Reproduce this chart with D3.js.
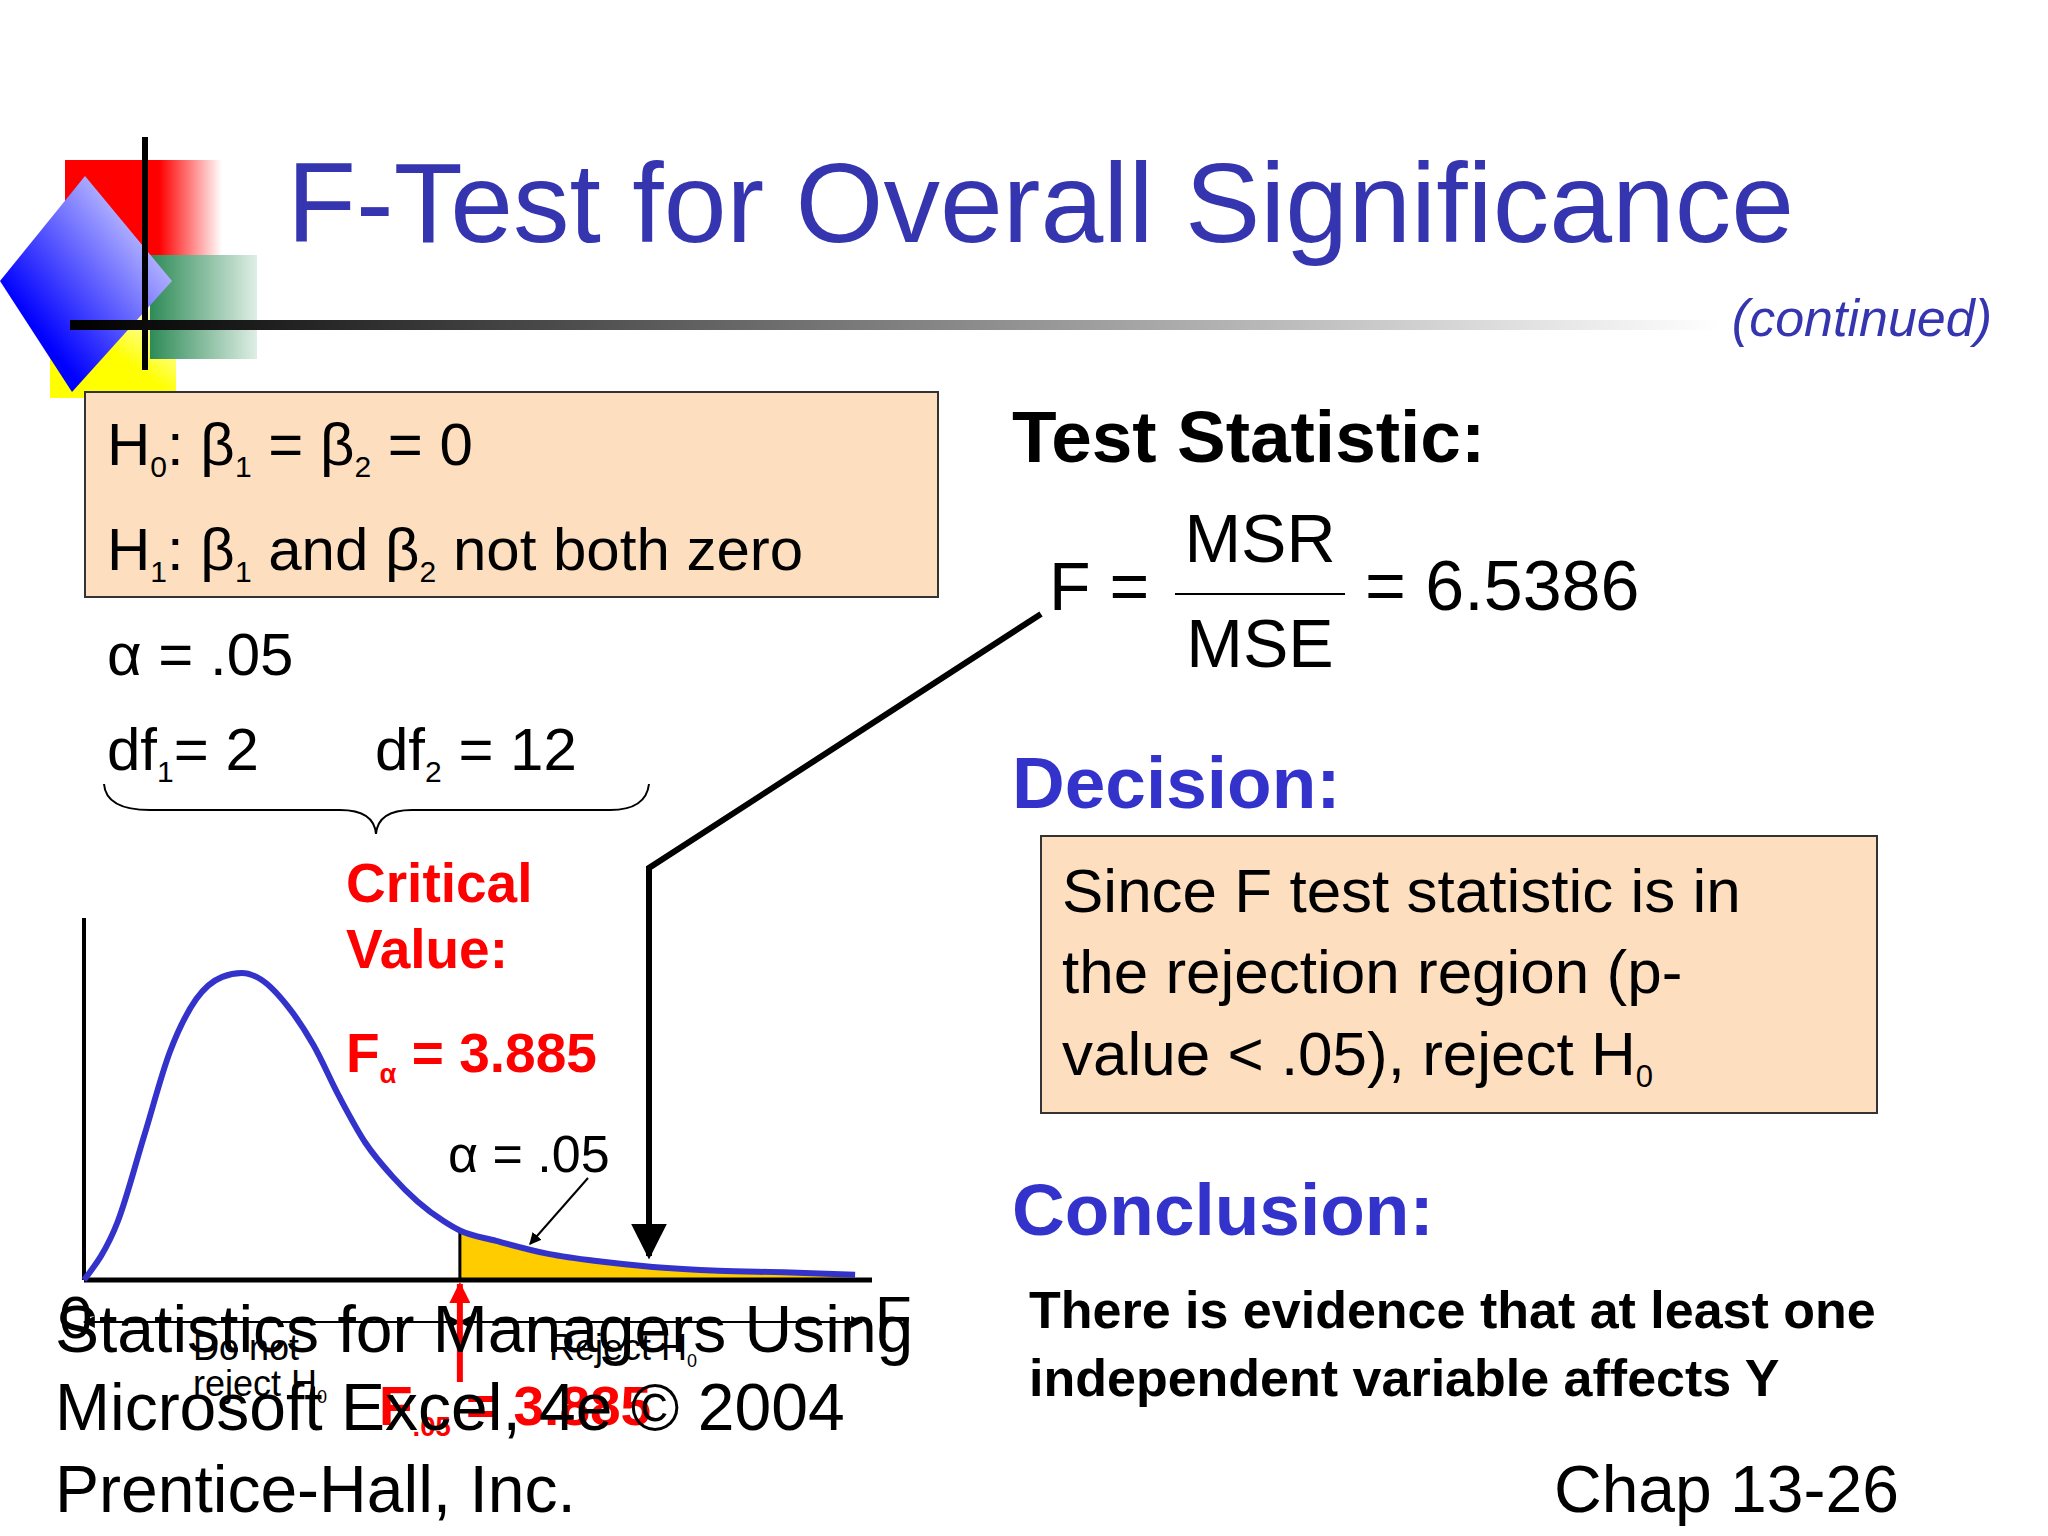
<!DOCTYPE html>
<html><head><meta charset="utf-8">
<script src="https://cdn.jsdelivr.net/npm/d3@7"></script>
<style>body{margin:0;background:#fff}text{font-family:"Liberation Sans",Arial,sans-serif}</style>
</head><body><div id="slide"></div>
<script>
// curve: F value and density height
const curveF = [0,0.35,0.62,0.89,1.16,1.43,1.63,1.83,2.10,2.37,2.64,2.91,3.18,3.45,3.72,3.885,4.26,4.80,5.34,5.88,6.56,7.23,7.97];
const curveD = [0,0.153,0.374,0.596,0.732,0.790,0.800,0.783,0.715,0.613,0.477,0.357,0.272,0.204,0.153,0.129,0.102,0.068,0.048,0.034,0.024,0.020,0.014];
const critical = 3.885;
const statF = 6.5386;
const decisionLines = ["Since F test statistic is in", "the rejection region (p-", "value < .05), reject H"];
const conclusionLines = ["There is evidence that at least one", "independent variable affects Y"];
const footerLines = ["Statistics for Managers Using", "Microsoft Excel, 4e © 2004", "Prentice-Hall, Inc."];

const W = 2048, H = 1536;
const svg = d3.select("#slide").append("svg").attr("width", W).attr("height", H);
const defs = svg.append("defs");

const gl = defs.append("linearGradient").attr("id", "rule");
gl.append("stop").attr("offset", "0%").attr("stop-color", "#000");
gl.append("stop").attr("offset", "100%").attr("stop-color", "#fff");
const gr = defs.append("linearGradient").attr("id", "red");
gr.append("stop").attr("offset", "60%").attr("stop-color", "#f00");
gr.append("stop").attr("offset", "100%").attr("stop-color", "#fff");
const gb = defs.append("linearGradient").attr("id", "blue").attr("x1", 0).attr("y1", 1).attr("x2", 1).attr("y2", 0);
gb.append("stop").attr("offset", "25%").attr("stop-color", "#0000ff");
gb.append("stop").attr("offset", "100%").attr("stop-color", "#fff");
const gg = defs.append("linearGradient").attr("id", "green");
gg.append("stop").attr("offset", "0%").attr("stop-color", "#2e8b57");
gg.append("stop").attr("offset", "100%").attr("stop-color", "#dfeee5");
const gy = defs.append("linearGradient").attr("id", "yellow").attr("x1", 0).attr("y1", 1).attr("x2", 1).attr("y2", 0);
gy.append("stop").attr("offset", "50%").attr("stop-color", "#ffff00");
gy.append("stop").attr("offset", "100%").attr("stop-color", "#fff");
defs.append("marker").attr("id", "ah").attr("viewBox", "0 0 10 10").attr("refX", 9).attr("refY", 5)
  .attr("markerWidth", 6).attr("markerHeight", 6).attr("orient", "auto-start-reverse")
  .append("path").attr("d", "M0,0L10,5L0,10z").attr("fill", "#000");
defs.append("marker").attr("id", "ahr").attr("viewBox", "0 0 10 10").attr("refX", 9).attr("refY", 5)
  .attr("markerWidth", 3.5).attr("markerHeight", 3.5).attr("orient", "auto")
  .append("path").attr("d", "M0,0L10,5L0,10z").attr("fill", "#f00");

// logo
svg.append("rect").attr("x", 50).attr("y", 307).attr("width", 126).attr("height", 91).attr("fill", "url(#yellow)");
svg.append("rect").attr("x", 150).attr("y", 255).attr("width", 107).attr("height", 104).attr("fill", "url(#green)");
svg.append("rect").attr("x", 65).attr("y", 160).attr("width", 157).attr("height", 95).attr("fill", "url(#red)");
svg.append("path").attr("d", "M85,176L172,281L72,392L0,281Z").attr("fill", "url(#blue)");
svg.append("line").attr("x1", 145).attr("x2", 145).attr("y1", 137).attr("y2", 370).attr("stroke", "#000").attr("stroke-width", 6);
svg.append("rect").attr("x", 70).attr("y", 320).attr("width", 1650).attr("height", 10).attr("fill", "url(#rule)");

const blue = "#3535b0";
svg.append("text").attr("x", 287).attr("y", 242).attr("font-size", 113).attr("fill", blue).text("F-Test for Overall Significance");
svg.append("text").attr("x", 1992).attr("y", 336).attr("text-anchor", "end").attr("font-size", 52)
  .attr("font-style", "italic").attr("fill", blue).text("(continued)");

// text with subscripts: parts are strings or {s: "..."} for subscript
function subText(x, y, size, parts, fill, weight) {
  const t = svg.append("text").attr("x", x).attr("y", y).attr("font-size", size).attr("fill", fill || "#000")
    .attr("font-weight", weight || "normal");
  let down = false;
  parts.forEach(p => {
    if (typeof p === "object") {
      t.append("tspan").attr("font-size", size * 0.5).attr("dy", down ? 0 : size * 0.2).text(p.s);
      down = true;
    } else {
      t.append("tspan").attr("dy", down ? -size * 0.2 : 0).text(p);
      down = false;
    }
  });
  return t;
}

// hypotheses box
svg.append("rect").attr("x", 85).attr("y", 392).attr("width", 853).attr("height", 205)
  .attr("fill", "#fddfc0").attr("stroke", "#333").attr("stroke-width", 2);
subText(107, 465, 60, ["H", {s: "0"}, ": β", {s: "1"}, " = β", {s: "2"}, " = 0"]);
subText(107, 570, 60, ["H", {s: "1"}, ": β", {s: "1"}, " and β", {s: "2"}, " not both zero"]);
svg.append("text").attr("x", 107).attr("y", 675).attr("font-size", 60).text("α = .05");
subText(107, 770, 60, ["df", {s: "1"}, "= 2"]);
subText(375, 770, 60, ["df", {s: "2"}, " = 12"]);
svg.append("path").attr("d", "M104,784Q106,810 150,810L340,810Q374,810 376,834Q378,810 412,810L610,810Q646,810 649,784")
  .attr("fill", "none").attr("stroke", "#000").attr("stroke-width", 2);

const red = "#f00";
svg.append("text").attr("x", 346).attr("y", 902).attr("font-size", 55).attr("font-weight", "bold").attr("fill", red).text("Critical");
svg.append("text").attr("x", 346).attr("y", 968).attr("font-size", 55).attr("font-weight", "bold").attr("fill", red).text("Value:");
subText(346, 1072, 55, ["F", {s: "α"}, " = 3.885"], red, "bold");

// F distribution
const x = d3.scaleLinear().domain([0, 8]).range([84, 858]);
const y = d3.scaleLinear().domain([0, 0.8]).range([1280, 973]);
const pts = curveF.map((f, i) => ({f, d: curveD[i]}));
const tail = pts.filter(p => p.f >= critical);
svg.append("path").datum(tail)
  .attr("d", d3.area().x(p => x(p.f)).y0(y(0)).y1(p => y(p.d)).curve(d3.curveMonotoneX))
  .attr("fill", "#ffcc00");
svg.append("line").attr("x1", x(critical)).attr("x2", x(critical)).attr("y1", y(0)).attr("y2", y(0.129))
  .attr("stroke", "#000").attr("stroke-width", 3);
svg.append("line").attr("x1", x(0)).attr("x2", x(0)).attr("y1", 918).attr("y2", y(0)).attr("stroke", "#000").attr("stroke-width", 4);
svg.append("line").attr("x1", x(0)).attr("x2", 872).attr("y1", y(0)).attr("y2", y(0)).attr("stroke", "#000").attr("stroke-width", 5);
svg.append("path").datum(pts)
  .attr("d", d3.line().x(p => x(p.f)).y(p => y(p.d)).curve(d3.curveMonotoneX))
  .attr("fill", "none").attr("stroke", "#3333cc").attr("stroke-width", 6);

svg.append("text").attr("x", 448).attr("y", 1172).attr("font-size", 52).text("α = .05");
svg.append("line").attr("x1", 588).attr("y1", 1178).attr("x2", 530).attr("y2", 1244)
  .attr("stroke", "#000").attr("stroke-width", 2).attr("marker-end", "url(#ah)");

// region arrows
[[x(0), x(critical)], [x(critical), 862]].forEach(([a, b]) => {
  svg.append("line").attr("x1", a).attr("x2", b).attr("y1", 1322).attr("y2", 1322)
    .attr("stroke", "#000").attr("stroke-width", 2)
    .attr("marker-start", "url(#ah)").attr("marker-end", "url(#ah)");
});
svg.append("text").attr("x", 59).attr("y", 1338).attr("font-size", 60).text("0");
svg.append("text").attr("x", 875).attr("y", 1338).attr("font-size", 60).text("F");
svg.append("text").attr("x", 193).attr("y", 1360).attr("font-size", 36).text("Do not");
subText(193, 1396, 36, ["reject H", {s: "0"}]);
subText(549, 1360, 36, ["Reject H", {s: "0"}]);
svg.append("line").attr("x1", x(critical)).attr("x2", x(critical)).attr("y1", 1382).attr("y2", 1284)
  .attr("stroke", red).attr("stroke-width", 6).attr("marker-end", "url(#ahr)");
subText(379, 1425, 55, ["F", {s: ".05"}, " = 3.885"], red, "bold");

// footer
footerLines.forEach((l, i) => svg.append("text").attr("x", 55).attr("y", [1352, 1430, 1512][i]).attr("font-size", 66).text(l));
svg.append("text").attr("x", 1554).attr("y", 1512).attr("font-size", 66).text("Chap 13-26");

// right column
svg.append("text").attr("x", 1012).attr("y", 462).attr("font-size", 73).attr("font-weight", "bold").text("Test Statistic:");
svg.append("text").attr("x", 1049).attr("y", 610).attr("font-size", 68).text("F =");
svg.append("text").attr("x", 1260).attr("y", 562).attr("text-anchor", "middle").attr("font-size", 68).text("MSR");
svg.append("line").attr("x1", 1175).attr("x2", 1345).attr("y1", 594).attr("y2", 594).attr("stroke", "#000").attr("stroke-width", 2);
svg.append("text").attr("x", 1260).attr("y", 667).attr("text-anchor", "middle").attr("font-size", 68).text("MSE");
svg.append("text").attr("x", 1365).attr("y", 610).attr("font-size", 70).text("= " + statF);
svg.append("path").attr("d", "M1041,614L649,868L649,1256").attr("fill", "none").attr("stroke", "#000")
  .attr("stroke-width", 6).attr("marker-end", "url(#ah)");

svg.append("text").attr("x", 1012).attr("y", 808).attr("font-size", 73).attr("font-weight", "bold").attr("fill", "#3333cc").text("Decision:");
svg.append("rect").attr("x", 1041).attr("y", 836).attr("width", 836).attr("height", 277)
  .attr("fill", "#fddfc0").attr("stroke", "#333").attr("stroke-width", 2);
decisionLines.forEach((l, i) => {
  subText(1062, [912, 993, 1075][i], 62, i === 2 ? [l, {s: "0"}] : [l]);
});
svg.append("text").attr("x", 1012).attr("y", 1235).attr("font-size", 73).attr("font-weight", "bold").attr("fill", "#3333cc").text("Conclusion:");
conclusionLines.forEach((l, i) => svg.append("text").attr("x", 1029).attr("y", [1328, 1396][i])
  .attr("font-size", 52).attr("font-weight", "bold").text(l));
</script></body></html>
